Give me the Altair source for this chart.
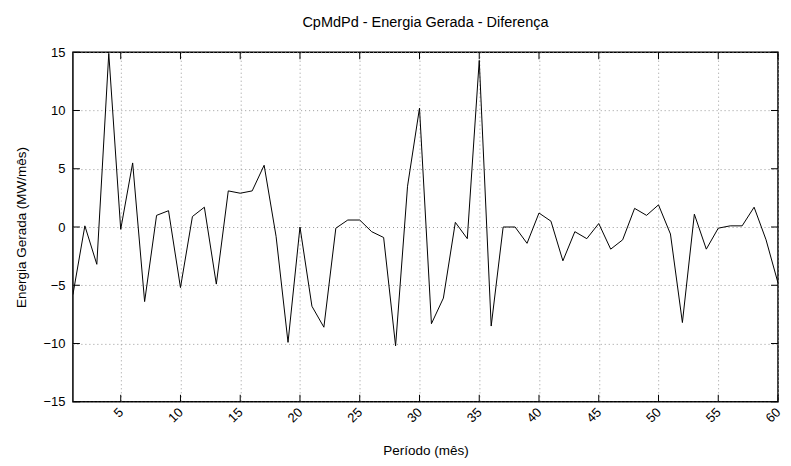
import altair as alt
import pandas as pd

periodo = list(range(1, 61))
diferenca = [
    -5.8, 0.1, -3.2, 14.9, -0.2, 5.5, -6.4, 1.0, 1.4, -5.2,
    0.9, 1.7, -4.9, 3.1, 2.9, 3.1, 5.3, -0.8, -9.9, 0.0,
    -6.8, -8.6, -0.1, 0.6, 0.6, -0.4, -0.9, -10.2, 3.5, 10.2,
    -8.3, -6.1, 0.4, -1.0, 14.3, -8.5, 0.0, 0.0, -1.4, 1.2,
    0.5, -2.9, -0.4, -1.0, 0.3, -1.9, -1.1, 1.6, 1.0, 1.9,
    -0.6, -8.2, 1.1, -1.9, -0.1, 0.1, 0.1, 1.7, -1.1, -4.8,
]
x_ticks = [5, 10, 15, 20, 25, 30, 35, 40, 45, 50, 55, 60]
y_ticks = [-15, -10, -5, 0, 5, 10, 15]

W, H = 706, 350
FONT = "Liberation Sans"
TICK_COLOR = "black"

df = pd.DataFrame({"periodo": periodo, "dif": diferenca})
xt = pd.DataFrame({"t": x_ticks})
yt = pd.DataFrame({"t": y_ticks})

xscale = alt.Scale(domain=[1, 60], nice=False, zero=False)
yscale = alt.Scale(domain=[-15, 15], nice=False)

line = alt.Chart(df).mark_line(color="black", strokeWidth=1, clip=True).encode(
    x=alt.X("periodo:Q", scale=xscale,
            axis=alt.Axis(values=x_ticks, title="Período (mês)", grid=True,
                          gridDash=[1, 3], gridColor="#999999", gridWidth=1,
                          ticks=False, labelAngle=-45, labelAlign="right",
                          labelBaseline="middle", labelPadding=8,
                          labelFont=FONT, labelFontSize=13, labelColor="black",
                          titleFont=FONT, titleFontSize=13.5, titleFontWeight="normal",
                          titleColor="black", titlePadding=19,
                          domain=False)),
    y=alt.Y("dif:Q", scale=yscale,
            axis=alt.Axis(values=y_ticks, title="Energia Gerada (MW/mês)", grid=True,
                          gridDash=[1, 3], gridColor="#999999", gridWidth=1,
                          ticks=False, labelPadding=8,
                          labelFont=FONT, labelFontSize=13, labelColor="black",
                          titleFont=FONT, titleFontSize=13.5, titleFontWeight="normal",
                          titleColor="black", titlePadding=14,
                          domain=False)),
)

tick_len = 7
xt_bottom = alt.Chart(xt).mark_rule(color=TICK_COLOR, strokeWidth=1).encode(
    x=alt.X("t:Q", scale=xscale), y=alt.value(H), y2=alt.value(H - tick_len))
xt_top = alt.Chart(xt).mark_rule(color=TICK_COLOR, strokeWidth=1).encode(
    x=alt.X("t:Q", scale=xscale), y=alt.value(0), y2=alt.value(tick_len))
yt_left = alt.Chart(yt).mark_rule(color=TICK_COLOR, strokeWidth=1).encode(
    y=alt.Y("t:Q", scale=yscale), x=alt.value(0), x2=alt.value(tick_len))
yt_right = alt.Chart(yt).mark_rule(color=TICK_COLOR, strokeWidth=1).encode(
    y=alt.Y("t:Q", scale=yscale), x=alt.value(W), x2=alt.value(W - tick_len))

chart = alt.layer(line, xt_bottom, xt_top, yt_left, yt_right).properties(
    width=W, height=H,
    background="white",
    title=alt.TitleParams("CpMdPd - Energia Gerada - Diferença", font=FONT,
                          fontSize=14.5, fontWeight="normal", color="black",
                          anchor="middle", offset=16),
    autosize=alt.AutoSizeParams(type="none"),
    padding={"left": 65, "top": 44, "right": 5, "bottom": 64},
).configure_view(stroke="black", strokeWidth=1.5)

chart.save("out.html", embed_options={"renderer": "svg", "actions": False})
